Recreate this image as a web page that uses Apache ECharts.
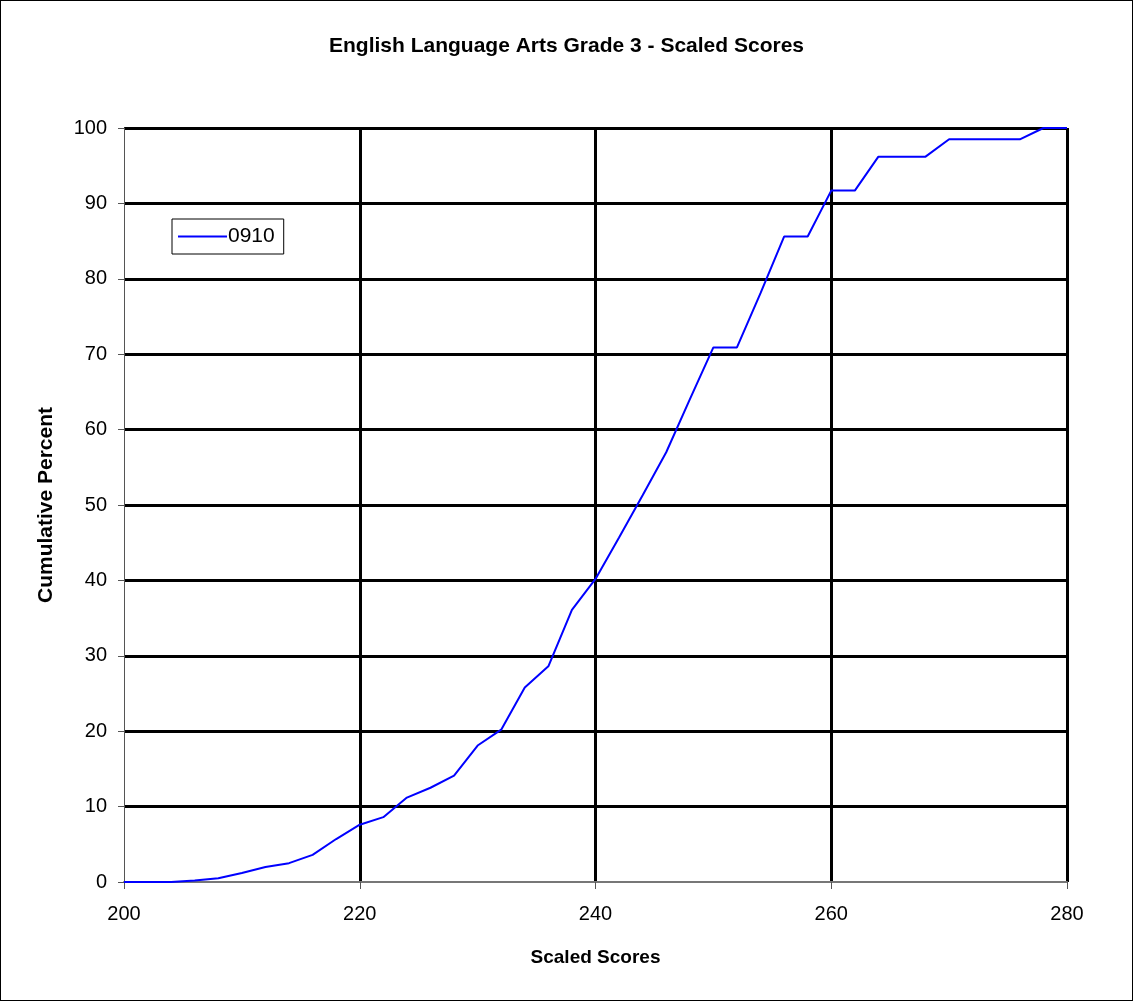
<!DOCTYPE html>
<html>
<head>
<meta charset="utf-8">
<script src="https://cdn.jsdelivr.net/npm/echarts@6/dist/echarts.min.js"></script>
<style>
  html, body { margin: 0; padding: 0; background: #fff; }
  #chart { width: 1133px; height: 1001px; box-sizing: border-box; border: 1px solid #000; }
</style>
</head>
<body>
<div id="chart"></div>
<script>
// scaled score (x) and cumulative percent (y)
var scores = [200, 202, 204, 206, 208, 210, 212, 214, 216, 218, 220, 222, 224, 226, 228, 230, 232, 234, 236, 238,
  240, 242, 244, 246, 248, 250, 252, 254, 256, 258, 260, 262, 264, 266, 268, 270, 272, 274, 276, 278, 280];
var cumPercent = [0, 0, 0, 0.2, 0.5, 1.2, 2.0, 2.5, 3.6, 5.7, 7.6, 8.6, 11.2, 12.5, 14.1, 18.1, 20.2, 25.8, 28.6, 36.1,
  40.2, 45.7, 51.3, 57.0, 64.0, 70.9, 70.9, 78.1, 85.6, 85.6, 91.7, 91.7, 96.2, 96.2, 96.2, 98.5, 98.5, 98.5, 98.5, 100, 100];
var seriesName = '0910';

var points = scores.map(function (s, i) { return [s, cumPercent[i]]; });

var font = 'Liberation Sans, Arial, sans-serif';
// first split line sits on the axis, keep it hidden
var yGrid = ['rgba(0,0,0,0)'];
for (var i = 0; i < 10; i++) yGrid.push('#000');
var xGrid = ['rgba(0,0,0,0)', '#000', '#000', '#000', '#000'];

var chart = echarts.init(document.getElementById('chart'));
chart.setOption({
  animation: false,
  title: {
    text: 'English Language Arts Grade 3 - Scaled Scores',
    left: 'center',
    top: 30,
    textStyle: { fontSize: 21, fontWeight: 'bold', color: '#000', fontFamily: font }
  },
  legend: {
    left: 171,
    top: 218,
    orient: 'vertical',
    icon: 'rect',
    itemWidth: 49,
    itemHeight: 2,
    itemGap: 4,
    padding: [7, 9, 7, 6],
    borderColor: '#000',
    borderWidth: 1,
    textStyle: { fontSize: 21, color: '#000', fontFamily: font, padding: [0, 0, 0, -4] },
    data: [seriesName]
  },
  grid: { left: 123, right: 65, top: 127, bottom: 118, containLabel: false },
  xAxis: {
    type: 'value',
    min: 200,
    max: 280,
    interval: 20,
    name: 'Scaled Scores',
    nameLocation: 'middle',
    nameGap: 66,
    nameTextStyle: { fontSize: 19, fontWeight: 'bold', color: '#000', fontFamily: font },
    axisLine: { show: true, lineStyle: { color: '#777', width: 2 } },
    axisTick: { show: true, length: 7, lineStyle: { color: '#555' } },
    axisLabel: { fontSize: 20, color: '#000', fontFamily: font, margin: 22 },
    splitLine: { show: true, lineStyle: { color: xGrid, width: 3 } }
  },
  yAxis: {
    type: 'value',
    min: 0,
    max: 100,
    interval: 10,
    name: 'Cumulative Percent',
    nameLocation: 'middle',
    nameGap: 67,
    nameTextStyle: { fontSize: 21, fontWeight: 'bold', color: '#000', fontFamily: font },
    axisLine: { show: true, lineStyle: { color: '#555', width: 1 } },
    axisTick: { show: true, length: 6, lineStyle: { color: '#555' } },
    axisLabel: { fontSize: 20, color: '#000', fontFamily: font, margin: 17 },
    splitLine: { show: true, lineStyle: { color: yGrid, width: 3 } }
  },
  series: [
    {
      name: seriesName,
      type: 'line',
      data: points,
      showSymbol: false,
      symbol: 'none',
      lineStyle: { color: '#0000ff', width: 2 },
      itemStyle: { color: '#0000ff' }
    }
  ]
});
</script>
</body>
</html>
